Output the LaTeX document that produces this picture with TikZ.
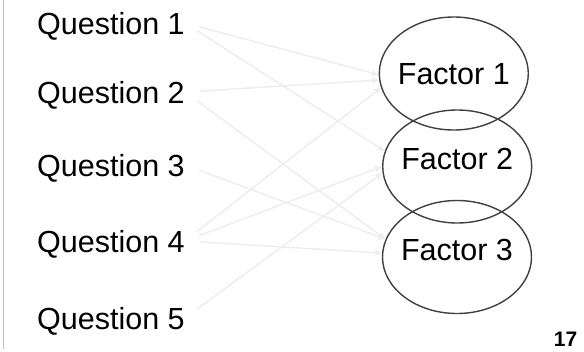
\documentclass[tikz,border=0pt]{standalone}
\usepackage{fontspec}
\setmainfont{Liberation Sans}
\usetikzlibrary{shapes.geometric,arrows.meta,calc}
\begin{document}
\begin{tikzpicture}[x=1pt,y=-1pt,
  qtext/.style={anchor=west,inner sep=0pt,text height=22pt,text depth=0pt,
    font=\fontsize{30.5}{36}\selectfont},
  factor/.style={ellipse,draw=black!75,line width=1.4pt,inner sep=0pt,
    minimum width=149pt,minimum height=113pt,text height=22pt,
    font=\fontsize{30.5}{36}\selectfont},
  conn/.style={draw=black!7,line width=1.5pt,shorten <=15pt,
    -{Stealth[length=8pt,width=7pt]}}]
\useasboundingbox (0,0) rectangle (584,351);
\draw[black!25,line width=1pt] (3.5,0) -- (3.5,349);
\node[qtext] (q1) at (37,23) {Question 1};
\node[qtext] (q2) at (37,92) {Question 2};
\node[qtext] (q3) at (37,165) {Question 3};
\node[qtext] (q4) at (37,241) {Question 4};
\node[qtext] (q5) at (37,318) {Question 5};
\node[factor,text depth=0pt] (f1) at (453.8,73.5) {\makebox[0pt]{Factor 1}};
\node[factor,text depth=16pt] (f2) at (457.2,166.5) {\makebox[0pt]{Factor 2}};
\node[factor,text depth=16pt] (f3) at (457,257) {\makebox[0pt]{Factor 3}};
\node[font=\bfseries\fontsize{21}{24}\selectfont,inner sep=0pt] (pg) at (565.5,339.5) {17};
\begin{scope}[on background layer/.try]
\draw[conn] (q1.east) -- (f1.181);
\draw[conn] (q1.east) -- (f2.168);
\draw[conn] (q2.east) -- (f1.185);
\draw[conn] (q2.east) -- (f3.166);
\draw[conn] (q3.east) -- (f3.166);
\draw[conn] (q4.east) -- (f1.191);
\draw[conn] (q4.east) -- (f2.180);
\draw[conn] (q4.east) -- (f3.177);
\draw[conn] (q5.east) -- (f2.185);
\end{scope}
\end{tikzpicture}
\end{document}
